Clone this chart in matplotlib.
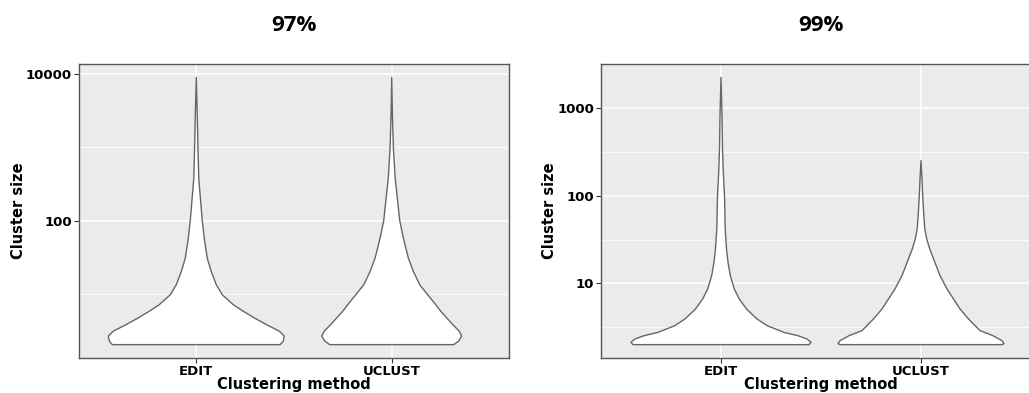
import numpy as np
import matplotlib
matplotlib.use("Agg")
import matplotlib.pyplot as plt
from matplotlib.ticker import FixedLocator, NullFormatter, FixedFormatter

methods = ["EDIT", "UCLUST"]
panel_titles = ["97%", "99%"]

# Violin profiles: cluster size (y) and kernel density (half width) for each method
size_97_edit = [2, 2.24, 2.62, 3.06, 3.77, 4.65, 5.73, 7.05, 9.64, 13.2, 20.0, 30.4,
                56.9, 100, 373, 955, 2680, 9100]
dens_97_edit = [84, 87, 88, 83, 70, 58, 47, 37, 26, 20, 15, 11,
                8, 6, 2.5, 1.7, 1.0, 0]

size_97_uclust = [2, 2.24, 2.62, 3.06, 3.77, 4.65, 5.73, 7.05, 9.64, 13.2, 20.0, 30.4,
                  56.9, 100, 373, 955, 2680, 9100]
dens_97_uclust = [62, 67, 70, 67.5, 61, 55, 49, 44, 36, 28, 21.7, 16.7,
                  11.7, 8, 3.5, 1.7, 0.7, 0]

size_99_edit = [2, 2.13, 2.32, 2.53, 2.76, 3.30, 3.93, 5.11, 6.65, 8.65, 12.3, 17.5,
                24.8, 42, 100, 188, 344, 828, 2260]
dens_99_edit = [88, 90, 86, 77, 63, 46, 36, 25.5, 18.3, 13.3, 9.3, 7,
                5.5, 4.2, 3.5, 2.3, 1.5, 1.0, 0]

size_99_uclust = [2, 2.05, 2.22, 2.53, 2.89, 3.30, 3.93, 5.11, 6.65, 8.65, 12.3, 17.5,
                  24.8, 32, 42, 60, 100, 156, 253]
dens_99_uclust = [81, 83, 81, 72, 59, 54, 47.5, 39, 32.5, 26, 19, 13.8,
                  8.7, 5.8, 3.8, 2.8, 1.7, 1.0, 0]

panels = [
    {"title": panel_titles[0],
     "sizes": [size_97_edit, size_97_uclust],
     "dens": [dens_97_edit, dens_97_uclust],
     "major": [100, 10000], "minor": [10, 1000]},
    {"title": panel_titles[1],
     "sizes": [size_99_edit, size_99_uclust],
     "dens": [dens_99_edit, dens_99_uclust],
     "major": [10, 100, 1000], "minor": [10 ** 0.5, 10 ** 1.5, 10 ** 2.5]},
]

BG = "#EBEBEB"
LINE = "#666666"
TXT = dict(fontfamily="DejaVu Sans", fontweight="bold", color="black")

fig = plt.figure(figsize=(10.29, 3.93), dpi=100)
rects = [
    [79 / 1029, 35 / 393, 430 / 1029, 294 / 393],
    [601 / 1029, 35 / 393, 440 / 1029, 294 / 393],
]

for rect, p in zip(rects, panels):
    ax = fig.add_axes(rect)
    ax.set_facecolor(BG)
    ax.set_yscale("log")

    # y limits: data range on log scale, expanded by 5% each side
    all_sizes = np.concatenate([np.asarray(s, float) for s in p["sizes"]])
    lo, hi = np.log10(all_sizes.min()), np.log10(all_sizes.max())
    pad = 0.05 * (hi - lo)
    ax.set_ylim(10 ** (lo - pad), 10 ** (hi + pad))
    ax.set_xlim(0.4, 2.6)

    # violins share one density scale (equal-area style), max half width 0.45
    dmax = max(max(d) for d in p["dens"])
    for i, (s, d) in enumerate(zip(p["sizes"], p["dens"])):
        pos = i + 1
        s = np.asarray(s, float)
        hw = np.asarray(d, float) / dmax * 0.45
        xs = np.concatenate([pos - hw, (pos + hw)[::-1]])
        ys = np.concatenate([s, s[::-1]])
        ax.fill(xs, ys, facecolor="white", edgecolor=LINE, linewidth=1.0,
                joinstyle="round", zorder=3)

    ax.yaxis.set_major_locator(FixedLocator(p["major"]))
    ax.yaxis.set_major_formatter(FixedFormatter([str(int(v)) for v in p["major"]]))
    ax.yaxis.set_minor_locator(FixedLocator(p["minor"]))
    ax.yaxis.set_minor_formatter(NullFormatter())
    ax.set_xticks([1, 2])
    ax.set_xticklabels(methods)

    ax.grid(True, which="major", color="white", linewidth=1.1, zorder=0)
    ax.grid(True, which="minor", axis="y", color="white", linewidth=0.55, zorder=0)
    ax.set_axisbelow(True)

    ax.tick_params(axis="both", which="major", length=3.5, width=0.8, color="#333333",
                   pad=1.5, labelsize=9.5)
    ax.tick_params(axis="y", which="minor", length=0)
    for lab in ax.get_xticklabels() + ax.get_yticklabels():
        lab.set_fontweight("bold")
        lab.set_fontfamily("DejaVu Sans")
        lab.set_color("black")

    for sp in ax.spines.values():
        sp.set_color("#555555")
        sp.set_linewidth(1.0)

    ax.set_ylabel("Cluster size", fontsize=10.5, labelpad=0, **TXT)
    ax.set_xlabel("Clustering method", fontsize=10.5, labelpad=-0.5, **TXT)
    ax.set_title(p["title"], fontsize=16, fontfamily="Open Sans", fontweight="bold",
                 pad=24)

fig.savefig("out.png", dpi=100)
